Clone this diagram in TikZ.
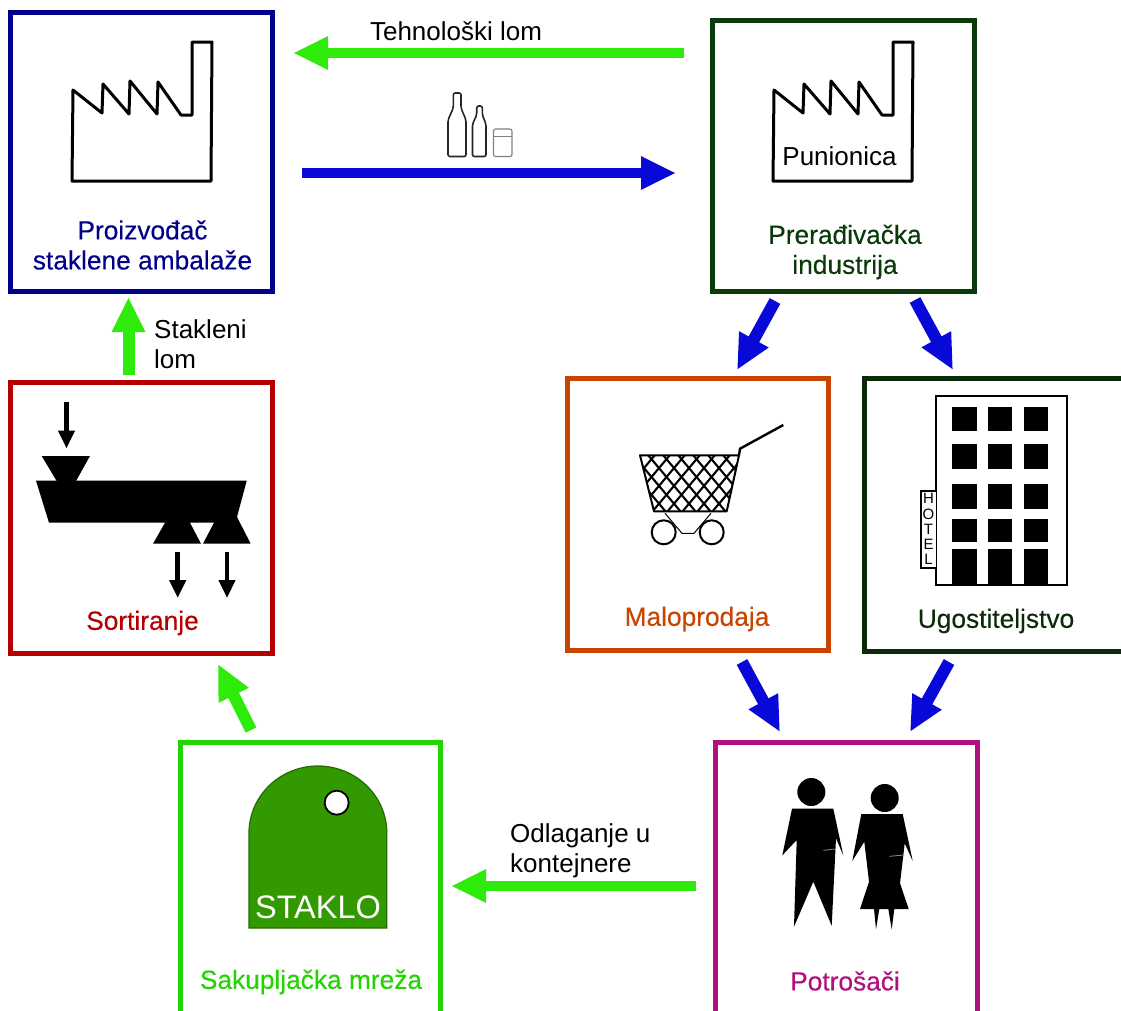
\documentclass[tikz,border=0pt]{standalone}
\usepackage{fontspec}
\setmainfont{Liberation Sans}
\usetikzlibrary{arrows.meta,calc}
\definecolor{cpro}{HTML}{00008B}
\definecolor{cpre}{HTML}{0A3A0A}
\definecolor{cmalo}{HTML}{C84400}
\definecolor{cugo}{HTML}{0A2A0A}
\definecolor{csort}{HTML}{B40000}
\definecolor{csak}{HTML}{22D400}
\definecolor{cpot}{HTML}{B0107F}
\definecolor{cflowg}{HTML}{2FEB0C}
\definecolor{cflowb}{HTML}{0808D8}
\definecolor{cbin}{HTML}{339900}
\tikzset{
  box/.style={draw=#1,line width=5pt,fill=white,minimum width=262pt,minimum height=272pt,inner sep=0pt,outer sep=0pt},
  lab/.style={text=#1,font=\fontsize{26.3}{30}\selectfont\addfontfeature{FakeBold=0.25},align=center,inner sep=0pt},
  plain/.style={font=\fontsize{26}{30}\selectfont,align=left,inner sep=0pt},
  flowg/.style={draw=cflowg,line width=10pt,-{Triangle[length=35pt,width=31pt,fill=cflowg]}},
  flowb/.style={draw=cflowb,line width=10pt,-{Triangle[length=35pt,width=31pt,fill=cflowb]}},
  mini/.style={draw=black,line width=4.5pt,-{Triangle[length=18pt,width=16pt]}},
  icon/.style={draw=black,line width=3pt,line join=round},
  pics/factory/.style={code={
    \draw[icon] (73,90)--(102,113)--(103,84)--(129,114)--(130,81)--(157,114)--(158,82)--(181,115)--(192,115)--(192,42)--(212,42)--(211,181)--(72,181)--cycle;
  }}
}
\begin{document}
\begin{tikzpicture}[x=1pt,y=-1pt]
\useasboundingbox (0,0) rectangle (1121,1010);
\clip (0,0) rectangle (1121,1010);
% boxes
\node[box=cpro,minimum height=279pt] (pro) at (141.5,152) {};
\node[box=cpre,minimum height=271pt] (pre) at (843.5,156) {};
\node[box=cmalo,minimum width=261pt,minimum height=271.5pt] (malo) at (697.5,514.25) {};
\node[box=cugo,minimum height=273pt] (ugo) at (995,514.5) {};
\node[box=csort,minimum height=271pt] (sort) at (141.5,518) {};
\node[box=csak,minimum width=260.5pt,minimum height=272pt] (sak) at (310.25,878) {};
\node[box=cpot,minimum width=261.5pt,minimum height=272pt] (pot) at (846.25,878) {};
% factories
\pic at (0,0) {factory};
\pic at (701,0) {factory};
% bottles
\draw[line width=1.6pt,draw=black!85,rounded corners=2pt] (453.3,93)--(461,93)--(461,108)--(466,120)--(466,156.5)--(448,156.5)--(448,120)--(453.3,108)--cycle;
\draw[line width=1.6pt,draw=black!85,rounded corners=2pt] (476.7,106)--(482.3,106)--(482.3,115)--(486,124)--(486,156.5)--(472.5,156.5)--(472.5,124)--(476.7,115)--cycle;
\draw[line width=1.1pt,draw=black!50,rounded corners=2pt] (493.5,129)--(512,129)--(512,156.5)--(493.5,156.5)--cycle;
\draw[line width=.8pt,draw=black!50] (494,136)--(511.5,136);
% sorter
\fill[black] (41.7,456)--(90,456)--(76,481)--(56.7,481)--cycle;
\fill[black] (36,480.7)--(246.7,480.7)--(237,517)--(250.7,543.7)--(203,543.7)--(214,522.7)--(190,522.7)--(201,543.7)--(153,543.7)--(165,522.7)--(49,522.7)--cycle;
\draw[mini] (66.5,402)--(66.5,448.5);
\draw[mini] (177.7,552)--(177.7,598);
\draw[mini] (227,552)--(227,598);
% cart
\begin{scope}
\clip (640,455.3)--(739,455.3)--(726.7,511.3)--(654,511.3)--cycle;
\foreach \k in {-4,...,12}{
  \draw[line width=2.1pt] ({618+\k*15},455)--({618+\k*15+48},512);
  \draw[line width=2.1pt] ({640+\k*15},455)--({640+\k*15-48},512);
}
\end{scope}
\draw[line width=2pt,line join=round] (640,455.3)--(739,455.3)--(726.7,511.3)--(654,511.3)--cycle;
\draw[line width=2.4pt,line join=round] (739,455.3)--(740,448.7)--(783.3,425);
\draw[line width=2pt] (663.7,532.3) circle (12);
\draw[line width=2pt] (711.7,532.3) circle (12);
\draw[line width=1pt] (665,513.3)--(682,533.3)--(694,533.3)--(711,513.3);
% hotel
\draw[line width=1.8pt] (936.3,396) rectangle (1066.7,585);
\foreach \xa/\xb in {952.3/976.7,988/1012.3,1023.7/1048}{
  \foreach \ya/\yb in {406.7/431.3,444.3/469.3,484.3/508.7,518.7/542,548.7/584}{
    \fill[black] (\xa,\ya) rectangle (\xb,\yb);
  }
}
\draw[line width=1.6pt,fill=white] (920.7,490.7) rectangle (936.3,567.7);
\foreach \t/\y in {H/498,O/514,T/529.3,E/544.3,L/559.3}{
  \node[inner sep=0pt,font=\fontsize{15}{15}\selectfont] at (928.5,\y) {\t};
}
% people
\fill[black] (811.3,792) circle (14);
\fill[black] (792,808.7)--(833.3,808.7)--(843.3,855.3)--(836,838.3)--(831.7,925.7)--(813.3,881.7)--(794,926.7)--(796.7,840)--(782.3,855.3)--cycle;
\draw[black!45,line width=.8pt] (823.3,850.3)--(835,849);
\fill[black] (884.7,798) circle (14);
\fill[black] (861.3,814)--(902.7,814)--(912.7,861)--(904.7,843.3)--(900,883.3)--(908.7,909)--(894.3,909)--(891.7,929.3)--(888.3,909)--(879.3,909)--(876,929.3)--(874,909)--(860,909)--(869,881.7)--(864.3,841.7)--(852.3,861)--cycle;
\draw[black!45,line width=.8pt] (889.3,856.3)--(904.3,855);
% bin
\fill[cbin,draw=cbin!70!black,line width=1.2pt] (249,928)--(249,833) arc[start angle=180,end angle=360,x radius=68.9,y radius=67]--(386.7,928)--cycle;
\draw[black,line width=1.8pt,fill=white] (336.7,802.7) circle (12);
% labels
\node[inner sep=0pt,text=white,font=\fontsize{32.5}{34}\selectfont] (stak) at (318,907) {STAKLO};
\node[plain,anchor=center] (pun) at (839.5,156) {Punionica};
\node[lab=cpro] (lpro) at (142.5,245) {Proizvođač\\staklene ambalaže};
\node[lab=cpre] (lpre) at (845,252) {Prerađivačka\\industrija};
\node[lab=cmalo] (lmalo) at (697,619) {Maloprodaja};
\node[lab=cugo] (lugo) at (996,621) {Ugostiteljstvo};
\node[lab=csort] (lsort) at (142.5,623) {Sortiranje};
\node[lab=csak] (lsak) at (311,982) {Sakupljačka mreža};
\node[lab=cpot] (lpot) at (845,981) {Potrošači};
\node[plain] (lteh) at (456,31) {Tehnološki lom};
\node[plain,anchor=west] (lsta) at (154,344.5) {Stakleni\\lom};
\node[plain,anchor=west] (lodl) at (510,850.5) {Odlaganje u\\kontejnere};
% connectors
\draw[flowg] ($(pre.north west)+(-28.5,32.5)$) -- ($(pro.north east)+(20.5,40.5)$);
\draw[flowb] ($(pro.north east)+(29.5,160.5)$) -- ($(pre.north west)+(-36.5,152.5)$);
\draw[flowb,line width=12pt] ($(pre.south west)+(62.5,9.5)$) -- ($(malo.north west)+(170,-8.5)$);
\draw[flowb,line width=12pt] ($(pre.south west)+(202.5,8.5)$) -- ($(ugo.north west)+(89,-8)$);
\draw[flowb,line width=12pt] ($(malo.south west)+(175,12)$) -- ($(pot.north west)+(64.5,-10)$);
\draw[flowb,line width=12pt] ($(ugo.south west)+(85,11)$) -- ($(pot.north west)+(194.5,-10)$);
\draw[flowg] ($(pot.north west)+(-19.5,144)$) -- ($(sak.north east)+(10.5,144)$);
\draw[flowg,line width=12pt] ($(sak.north west)+(71,-12)$) -- ($(sort.south west)+(207.5,10.5)$);
\draw[flowg,line width=12pt] ($(sort.north west)+(118,-7.5)$) -- ($(pro.south west)+(118,5.5)$);
\end{tikzpicture}
\end{document}
